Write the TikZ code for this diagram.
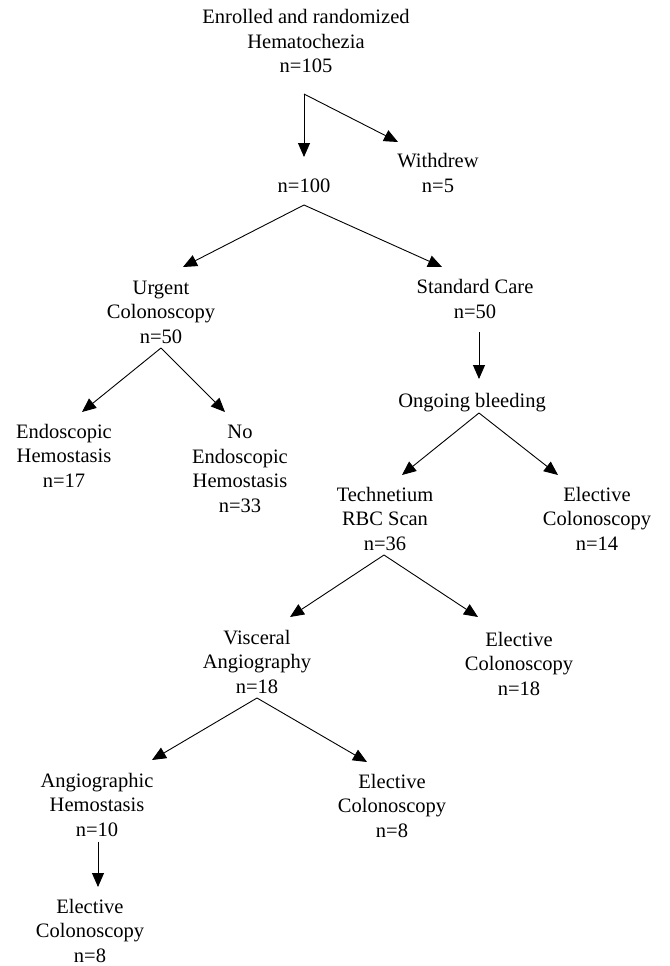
\documentclass[tikz,border=0pt]{standalone}
\usepackage{fontspec}
\setmainfont{Liberation Serif}
\usetikzlibrary{arrows.meta}
\begin{document}
\begin{tikzpicture}[x=1pt,y=-1pt,
  lbl/.style={inner sep=0pt,anchor=base,align=center,font=\fontsize{20.5}{24.5}\selectfont},
  arr/.style={-{Triangle[length=14pt,width=12pt]},line width=0.9pt},
  ln/.style={line width=0.9pt}]
\useasboundingbox (0,0) rectangle (669,966);
% nodes (anchor = baseline of last line)
\node[lbl] (enr) at (306,73) {Enrolled and randomized\\Hematochezia\\n=105};
\node[lbl] (n100) at (304,192) {n=100};
\node[lbl] (wd) at (438,192) {Withdrew\\n=5};
\node[lbl] (urg) at (161,343) {Urgent\\Colonoscopy\\n=50};
\node[lbl] (std) at (475,318) {Standard Care\\n=50};
\node[lbl] (endo) at (64,487) {Endoscopic\\Hemostasis\\n=17};
\node[lbl] (noendo) at (240,512) {No\\Endoscopic\\Hemostasis\\n=33};
\node[lbl] (ong) at (472,407) {Ongoing bleeding};
\node[lbl] (tech) at (385,550) {Technetium\\RBC Scan\\n=36};
\node[lbl] (el14) at (597,550) {Elective\\Colonoscopy\\n=14};
\node[lbl] (visc) at (257,693) {Visceral\\Angiography\\n=18};
\node[lbl] (el18) at (519,695) {Elective\\Colonoscopy\\n=18};
\node[lbl] (angio) at (97,836) {Angiographic\\Hemostasis\\n=10};
\node[lbl] (el8a) at (392,837) {Elective\\Colonoscopy\\n=8};
\node[lbl] (el8b) at (90,962) {Elective\\Colonoscopy\\n=8};
% fork points
\coordinate (f0) at (304,94);
\coordinate (f1) at (304,205);
\coordinate (f2) at (161,348);
\coordinate (f3) at (479,413);
\coordinate (f4) at (384,555);
\coordinate (f5) at (257,698);
% arrows
\draw[arr] (f0) -- (304,157) coordinate (t100);
\draw[arr] (f0) -- (398,142) coordinate (twd);
\draw[arr] (f1) -- (183,267) coordinate (turg);
\draw[arr] (f1) -- (442,267) coordinate (tstd);
\draw[arr] (f2) -- (82,412) coordinate (tendo);
\draw[arr] (f2) -- (225,412) coordinate (tnoendo);
\draw[arr] (479,332) coordinate (sstd) -- (479,379) coordinate (tong);
\draw[arr] (f3) -- (402,475) coordinate (ttech);
\draw[arr] (f3) -- (558,475) coordinate (tel14);
\draw[arr] (f4) -- (290,617) coordinate (tvisc);
\draw[arr] (f4) -- (478,617) coordinate (tel18);
\draw[arr] (f5) -- (152,760) coordinate (tangio);
\draw[arr] (f5) -- (367,762) coordinate (tel8a);
\draw[arr] (98,842) coordinate (sangio) -- (98,887) coordinate (tel8b);
\end{tikzpicture}
\end{document}
